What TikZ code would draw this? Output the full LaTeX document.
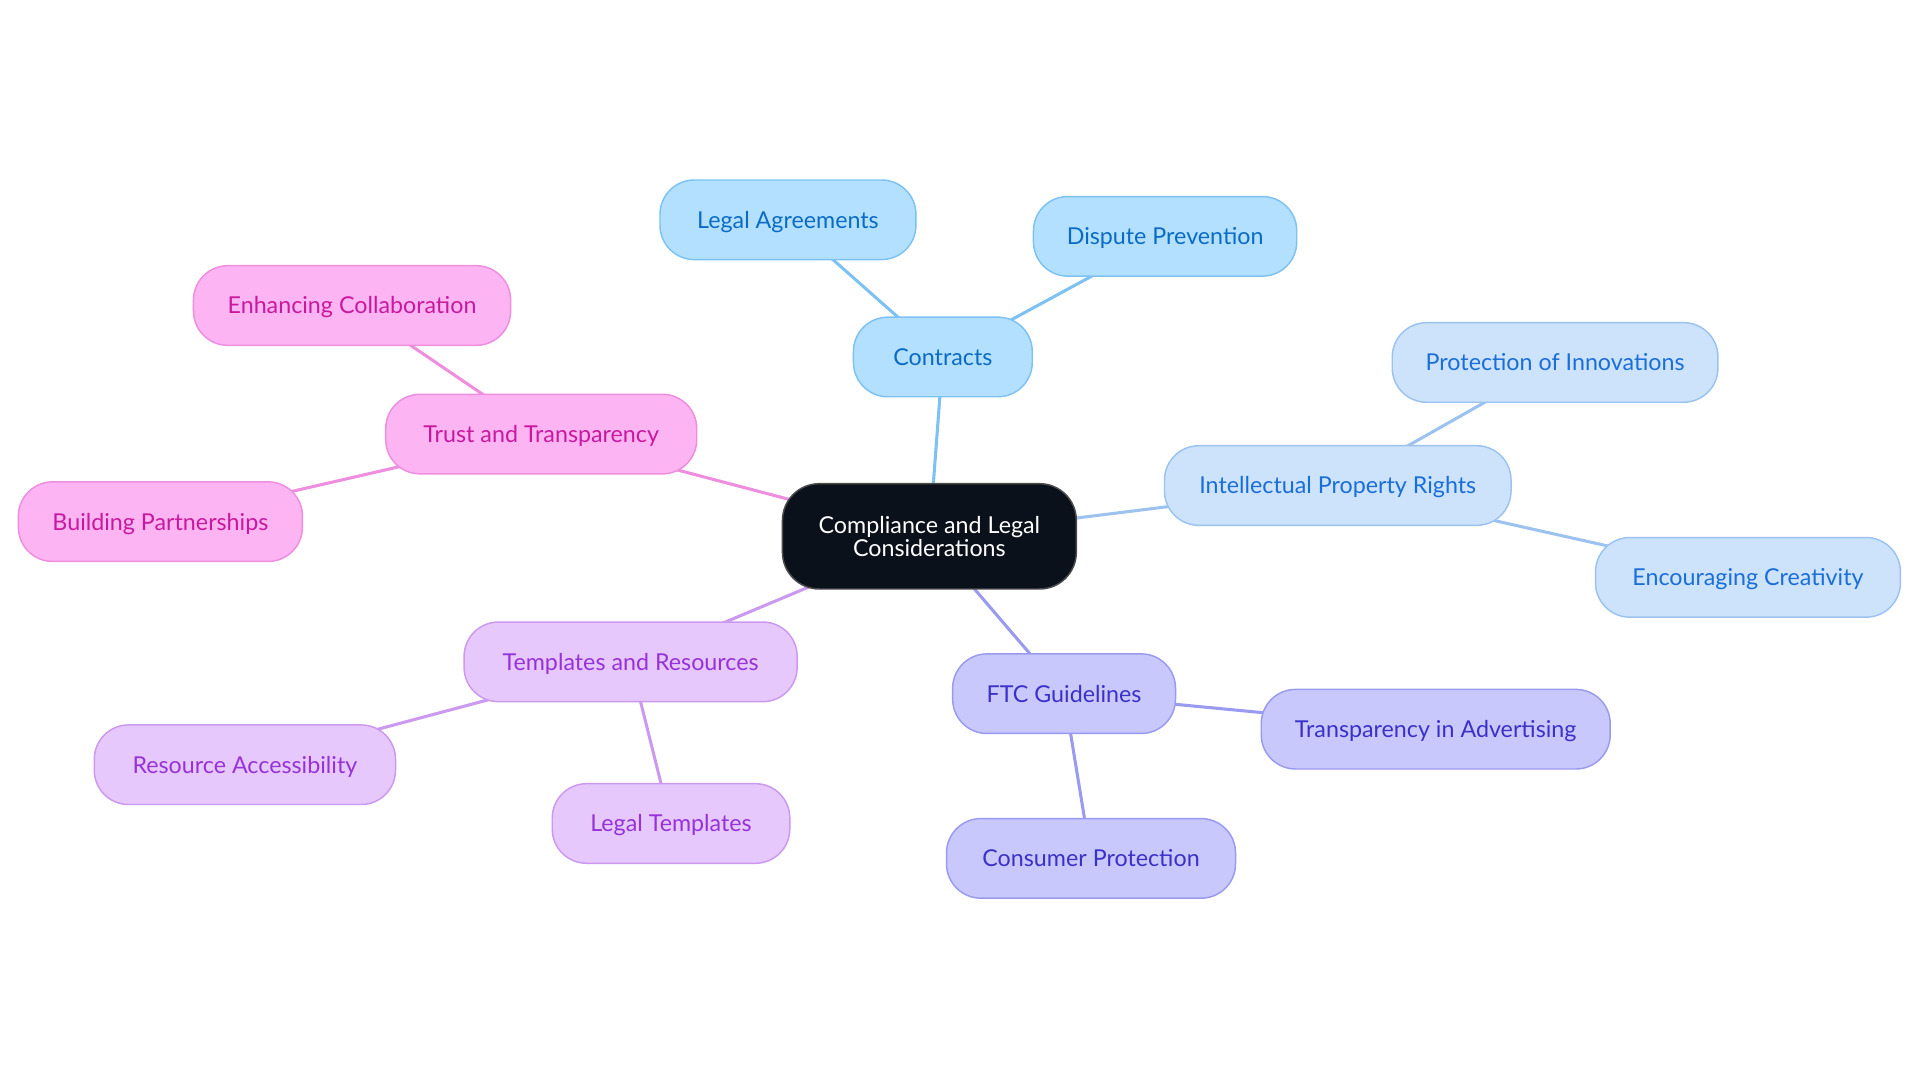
\documentclass[tikz,border=0pt]{standalone}
\usepackage{fontspec}
\setmainfont{Lato}
\usetikzlibrary{backgrounds}
\definecolor{cBfill}{HTML}{B3E0FF}\definecolor{cBdraw}{HTML}{7DC2F2}\definecolor{cBtext}{HTML}{0B6BC4}
\definecolor{cIfill}{HTML}{CCE3FB}\definecolor{cIdraw}{HTML}{9CC3F0}\definecolor{cItext}{HTML}{1A6ED8}
\definecolor{cFfill}{HTML}{C8C8FC}\definecolor{cFdraw}{HTML}{9A9AF0}\definecolor{cFtext}{HTML}{3B31C8}
\definecolor{cTfill}{HTML}{E6C8FC}\definecolor{cTdraw}{HTML}{CC99F0}\definecolor{cTtext}{HTML}{9632D8}
\definecolor{cPfill}{HTML}{FDB4F2}\definecolor{cPdraw}{HTML}{EE8EDE}\definecolor{cPtext}{HTML}{C8199E}
\definecolor{cCfill}{HTML}{0B111B}
\tikzset{
  box/.style={rounded corners=28pt, minimum height=65pt, inner sep=0pt, line width=1.2pt,
    font=\fontsize{19}{18.5}\selectfont, align=center},
  leaf/.style={box, text height=13.7pt, text depth=0pt},
  bluebox/.style={leaf, fill=cBfill, draw=cBdraw, text=cBtext},
  iprbox/.style={leaf, fill=cIfill, draw=cIdraw, text=cItext},
  ftcbox/.style={leaf, fill=cFfill, draw=cFdraw, text=cFtext},
  tmplbox/.style={leaf, fill=cTfill, draw=cTdraw, text=cTtext},
  pinkbox/.style={leaf, fill=cPfill, draw=cPdraw, text=cPtext},
  centerbox/.style={box, fill=cCfill, draw=black!70, text=white, minimum height=86pt, rounded corners=30pt},
  link/.style={line width=2.5pt},
}
\begin{document}
\begin{tikzpicture}[x=1pt,y=-1pt]
\useasboundingbox (0,0) rectangle (1568,884);
\node[centerbox, minimum width=240pt] (root) at (759,438) {Compliance and Legal\\Considerations};
\node[bluebox, minimum width=146pt] (contracts) at (770,291.5) {Contracts};
\node[bluebox, minimum width=209pt] (legal) at (643.5,179.5) {Legal Agreements};
\node[bluebox, minimum width=215pt] (dispute) at (951.5,193) {Dispute Prevention};
\node[iprbox, minimum width=283pt] (ipr) at (1092.5,396.5) {Intellectual Property Rights};
\node[iprbox, minimum width=266pt] (protect) at (1270,296) {Protection of Innovations};
\node[iprbox, minimum width=249pt] (creat) at (1427.5,471.5) {Encouraging Creativity};
\node[ftcbox, minimum width=182pt] (ftc) at (869,566.5) {FTC Guidelines};
\node[ftcbox, minimum width=285pt] (adv) at (1172.5,595.5) {Transparency in Advertising};
\node[ftcbox, minimum width=236pt] (consumer) at (891,701) {Consumer Protection};
\node[tmplbox, minimum width=272pt] (tmpl) at (515,540.5) {Templates and Resources};
\node[tmplbox, minimum width=246pt] (access) at (200,624.5) {Resource Accessibility};
\node[tmplbox, minimum width=194pt] (ltmpl) at (548,672.5) {Legal Templates};
\node[pinkbox, minimum width=254pt] (trust) at (442,354.5) {Trust and Transparency};
\node[pinkbox, minimum width=259pt] (collab) at (287.5,249.5) {Enhancing Collaboration};
\node[pinkbox, minimum width=232pt] (partner) at (131,426) {Building Partnerships};
\begin{scope}[on background layer]
\draw[link, draw=cBdraw] (root.center) -- (contracts.center);
\draw[link, draw=cBdraw] (contracts.center) -- (legal.center);
\draw[link, draw=cBdraw] (contracts.center) -- (dispute.center);
\draw[link, draw=cIdraw] (root.center) -- (ipr.center);
\draw[link, draw=cIdraw] (ipr.center) -- (protect.center);
\draw[link, draw=cIdraw] (ipr.center) -- (creat.center);
\draw[link, draw=cFdraw] (root.center) -- (ftc.center);
\draw[link, draw=cFdraw] (ftc.center) -- (adv.center);
\draw[link, draw=cFdraw] (ftc.center) -- (consumer.center);
\draw[link, draw=cTdraw] (root.center) -- (tmpl.center);
\draw[link, draw=cTdraw] (tmpl.center) -- (access.center);
\draw[link, draw=cTdraw] (tmpl.center) -- (ltmpl.center);
\draw[link, draw=cPdraw] (root.center) -- (trust.center);
\draw[link, draw=cPdraw] (trust.center) -- (collab.center);
\draw[link, draw=cPdraw] (trust.center) -- (partner.center);
\end{scope}
\end{tikzpicture}
\end{document}
